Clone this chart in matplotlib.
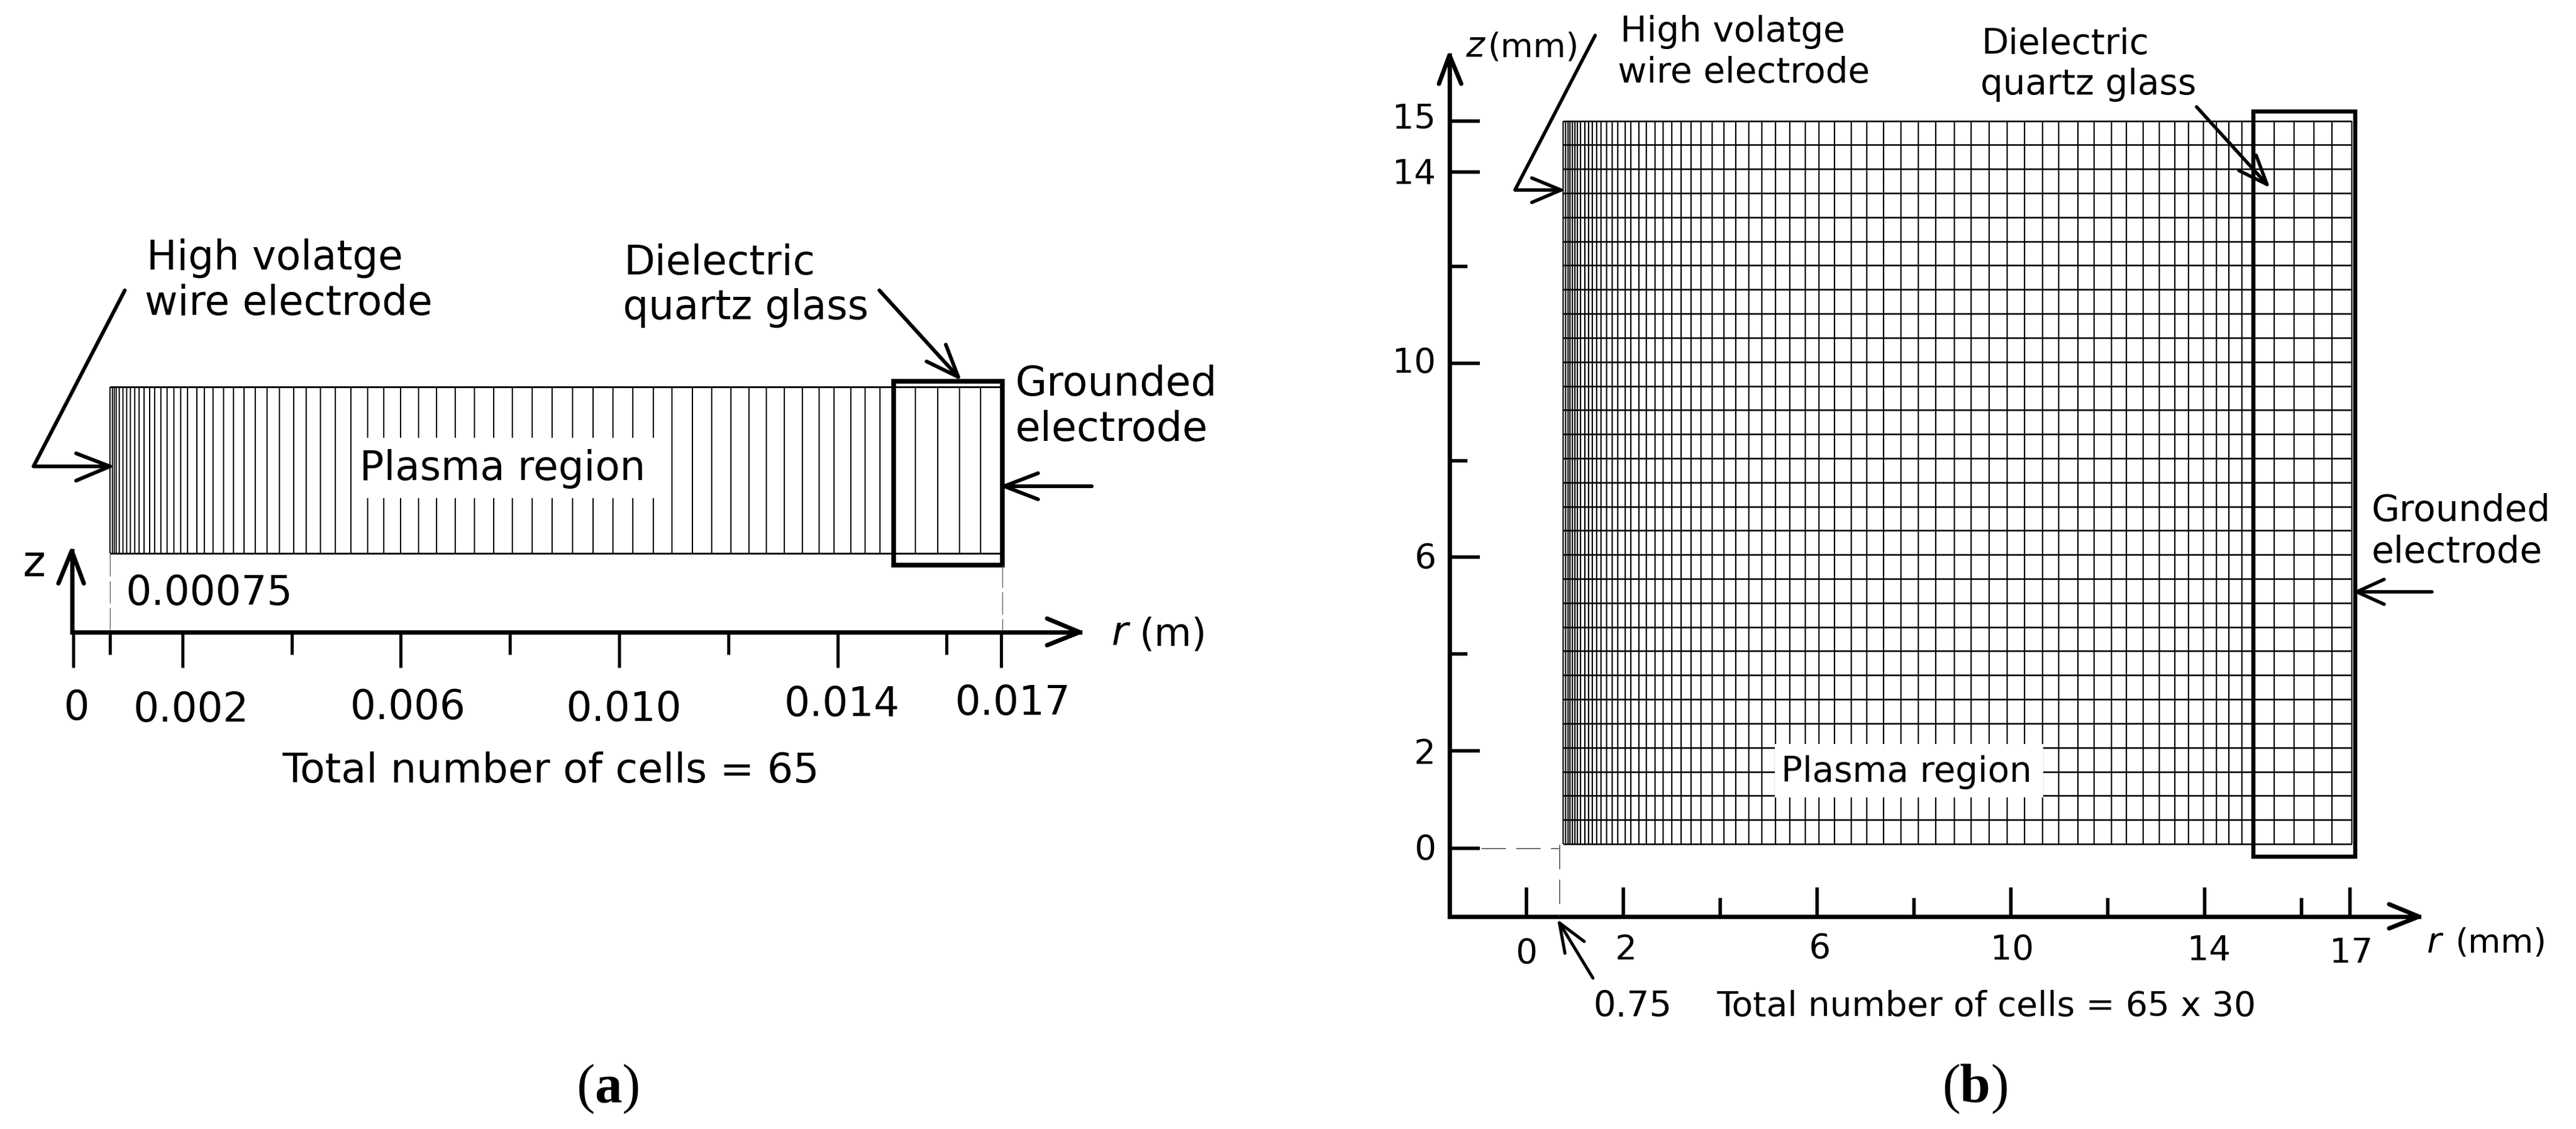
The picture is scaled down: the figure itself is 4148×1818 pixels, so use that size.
import matplotlib
matplotlib.use("Agg")
import matplotlib.pyplot as plt
from matplotlib.lines import Line2D
from matplotlib.patches import Rectangle
from matplotlib.transforms import Affine2D

# ---------- data ----------
# panel (a): radial cell faces (m)
r_faces_a = [0.000668, 0.000717, 0.000754, 0.000788, 0.000838, 0.000907, 0.000975, 0.001047,
             0.001123, 0.001206, 0.001297, 0.001396, 0.001490, 0.001608, 0.001721, 0.001843,
             0.001965, 0.002093, 0.002260, 0.002404, 0.002563, 0.002753, 0.002935, 0.003125,
             0.003337, 0.003549, 0.003777, 0.004035, 0.004270, 0.004528, 0.004804, 0.005085,
             0.005389, 0.005692, 0.005995, 0.006322, 0.006652, 0.007000, 0.007349, 0.007699,
             0.008047, 0.008404, 0.008775, 0.009150, 0.009522, 0.009886, 0.010245, 0.010622,
             0.010970, 0.011347, 0.011695, 0.012044, 0.012378, 0.012696, 0.013031, 0.013356,
             0.013663, 0.013936, 0.014249, 0.014505, 0.014778, 0.015029, 0.015432, 0.015832,
             0.016230, 0.016621, 0.016997]
z_faces_a = [0.0, 1.0]
r_major_a = [0.0, 0.002, 0.006, 0.010, 0.014, 0.017]
r_labels_a = ["0", "0.002", "0.006", "0.010", "0.014", "0.017"]
r_minor_a = [0.000668, 0.004, 0.008, 0.012, 0.016]

# panel (b): radial and axial cell faces (mm)
r_faces_b = [0.760, 0.808, 0.855, 0.901, 0.945, 1.000, 1.051, 1.115, 1.201, 1.278, 1.363, 1.453,
             1.542, 1.658, 1.769, 1.885, 2.035, 2.154, 2.324, 2.471, 2.654, 2.824, 2.996, 3.196,
             3.401, 3.606, 3.837, 4.073, 4.321, 4.586, 4.855, 5.141, 5.432, 5.753, 6.042, 6.363,
             6.705, 7.026, 7.376, 7.727, 8.094, 8.445, 8.829, 9.179, 9.547, 9.927, 10.282, 10.658,
             10.987, 11.385, 11.718, 12.071, 12.390, 12.736, 13.063, 13.381, 13.672, 13.970,
             14.247, 14.504, 14.768, 14.987, 15.441, 15.842, 16.251, 16.633, 17.035]
z_faces_b = [0.0, 0.5, 1.0, 1.5, 2.0, 2.5, 3.0, 3.5, 4.0, 4.5, 5.0, 5.5, 6.0, 6.5, 7.0, 7.5,
             8.0, 8.5, 9.0, 9.5, 10.0, 10.5, 11.0, 11.5, 12.0, 12.5, 13.0, 13.5, 14.0, 14.5, 15.0]
r_major_b = [0, 2, 6, 10, 14, 17]
r_labels_b = ["0", "2", "6", "10", "14", "17"]
r_minor_b = [4, 8, 12, 16]
z_major_b = [-0.09, 1.93, 5.95, 9.97, 13.94, 15.0]
z_labels_b = ["0", "2", "6", "10", "14", "15"]
z_minor_b = [3.94, 7.95, 11.98]

# ---------- page helpers ----------
W, H = 4148, 1818
DPI = 100
fig = plt.figure(figsize=(W / DPI, H / DPI), dpi=DPI, facecolor="white")
pxT = Affine2D().scale(1 / W, -1 / H).translate(0, 1) + fig.transFigure
plt.rcParams["font.family"] = ["DejaVu Sans"]


def pt(px):
    return px * 72 / DPI


def make_axes(x0, x1, y_top, y_bottom):
    ax = fig.add_axes([x0 / W, 1 - y_bottom / H, (x1 - x0) / W, (y_bottom - y_top) / H])
    ax.patch.set_visible(False)
    for s in ("top", "right"):
        ax.spines[s].set_visible(False)
    return ax


def stroke(xs, ys, lw=6, color="black", **kw):
    kw.setdefault("solid_capstyle", "round")
    kw.setdefault("solid_joinstyle", "round")
    fig.add_artist(Line2D(xs, ys, lw=pt(lw), color=color, transform=pxT, **kw))


def arrow_head(tip, b1, b2, lw=6):
    stroke([b1[0], tip[0], b2[0]], [b1[1], tip[1], b2[1]], lw=lw)


def label(x, y, s, size, **kw):
    fig.text(x, y, s, transform=pxT, fontsize=pt(size), va="baseline", ha=kw.pop("ha", "left"), **kw)


def box(x0, y0, x1, y1, lw=None, fc="none", ec="black"):
    fig.add_artist(Rectangle((x0, y0), x1 - x0, y1 - y0, transform=pxT, facecolor=fc,
                             edgecolor=ec, lw=pt(lw) if lw else 0))


def shift_labels(labels, offsets):
    for lab, (dx, dy) in zip(labels, offsets):
        lab.set_transform(lab.get_transform() + Affine2D().translate(dx, dy))


# ---------- panel (a) ----------
FA = 65
axa = make_axes(115.5, 1738.5, 600, 1018)
axa.set_xlim(-2.8e-5, 0.018436)
axa.set_ylim(-0.474, 1.086)
axa.vlines(r_faces_a, z_faces_a[0], z_faces_a[-1], color="black", lw=pt(2))
axa.hlines(z_faces_a, r_faces_a[0], r_faces_a[-1], color="black", lw=pt(2.8))
axa.spines["left"].set_bounds(-0.474, 0.015)
for s in ("left", "bottom"):
    axa.spines[s].set_linewidth(pt(7))
axa.set_yticks([])
axa.set_xticks(r_major_a, r_labels_a, fontsize=pt(FA))
axa.set_xticks(r_minor_a, minor=True)
axa.tick_params(axis="x", which="major", direction="out", length=pt(57), width=pt(5), pad=pt(33))
axa.tick_params(axis="x", which="minor", direction="out", length=pt(36), width=pt(5))
shift_labels(axa.get_xticklabels(),
             [(5, -1), (14, -4), (12, 0), (8, -3), (7, 5), (19, 7)])

box(567, 705, 1063, 802, fc="white")
label(579, 773, "Plasma region", FA)
label(236, 434, "High volatge", FA)
label(233, 507, "wire electrode", FA)
label(1005, 442, "Dielectric", FA)
label(1003, 514, "quartz glass", FA)
label(1634, 637, "Grounded", 66)
label(1634, 710, "electrode", 66)
label(203, 974, "0.00075", FA)
label(454, 1260, "Total number of cells = 65", 65.7)
label(37, 928, "z", 70)
label(1790, 1039, "r", FA, style="italic")
label(1835, 1039, "(m)", 62)

box(1439, 614, 1613.5, 909.5, lw=7.5)
stroke([201, 54, 177], [467.5, 751, 751])
arrow_head((177, 751), (122.5, 730), (122.5, 774))
stroke([1416, 1543], [467.5, 607])
arrow_head((1543, 607), (1492, 582), (1523, 555))
stroke([1617, 1758], [783, 783])
arrow_head((1617, 783), (1671.6, 762), (1671.6, 804))
arrow_head((1738.5, 1018), (1686, 996), (1686, 1039), lw=7)
arrow_head((115.5, 887), (94, 939.5), (135, 939.5), lw=7)
stroke([177, 177], [892, 1015], lw=1.2, color="#555555", linestyle=(0, (30, 6)))
stroke([1614, 1614], [910, 1015], lw=1.2, color="#555555", linestyle=(0, (30, 6)))

# ---------- panel (b) ----------
FB = 57
axb = make_axes(2334, 3895, 89, 1476)
axb.set_xlim(-1.590, 18.423)
axb.set_ylim(-1.507, 16.36)
axb.vlines(r_faces_b, z_faces_b[0], z_faces_b[-1], color="black", lw=pt(2.2))
axb.hlines(z_faces_b, r_faces_b[0], r_faces_b[-1], color="black", lw=pt(2.5))
for s in ("left", "bottom"):
    axb.spines[s].set_linewidth(pt(7))
axb.set_xticks(r_major_b, r_labels_b, fontsize=pt(55))
axb.set_xticks(r_minor_b, minor=True)
axb.set_yticks(z_major_b, z_labels_b, fontsize=pt(55))
axb.set_yticks(z_minor_b, minor=True)
axb.tick_params(axis="x", which="major", direction="in", length=pt(47), width=pt(5.5), pad=pt(27))
axb.tick_params(axis="x", which="minor", direction="in", length=pt(30), width=pt(5.5))
axb.tick_params(axis="y", which="major", direction="in", length=pt(49), width=pt(5.5), pad=pt(22))
axb.tick_params(axis="y", which="minor", direction="in", length=pt(29), width=pt(5.5))
shift_labels(axb.get_xticklabels(), [(0, -6), (4, 0), (4, 2), (2, 0), (7, -1), (2, -5)])
shift_labels(axb.get_yticklabels(), [(0, 3), (0, 0), (0, 3), (0, 6), (0, 2), (0, 9)])

box(2858, 1198, 3290, 1284, fc="white")
label(2868, 1259, "Plasma region", FB)
label(2609, 67, "High volatge", FB)
label(2605, 133, "wire electrode", FB)
label(3190, 87, "Dielectric", FB)
label(3189, 152, "quartz glass", FB)
label(3819, 839, "Grounded", 58.5)
label(3819, 906, "electrode", 58.5)
label(2565, 1637, "0.75", FB)
label(2764, 1636, "Total number of cells = 65 x 30", 55.5)
label(2360, 91, "z", FB, style="italic")
label(2395, 91, "(mm)", 54)
label(3908, 1533, "r", FB, style="italic")
label(3953, 1533, "(mm)", 54)

box(3627.6, 178.6, 3792, 1379, lw=6.5)
stroke([2568.6, 2439.5, 2513.5], [57, 306, 306], lw=5.5)
arrow_head((2513.5, 306), (2466.5, 286.6), (2466.5, 326), lw=5.5)
stroke([3537, 3650.5], [172, 297], lw=5.5)
arrow_head((3650.5, 297), (3605, 274.5), (3633, 250), lw=5.5)
stroke([3795, 3915.5], [953, 953], lw=5.5)
arrow_head((3795, 953), (3839, 933), (3839, 973), lw=5.5)
stroke([2511, 2565], [1486, 1575], lw=5)
arrow_head((2511, 1486), (2520, 1535), (2551, 1516), lw=5)
arrow_head((3895, 1476), (3847, 1456), (3847, 1495), lw=7)
arrow_head((2334, 89), (2317, 135), (2353, 135), lw=7)
stroke([2385, 2510], [1365.6, 1365.6], lw=1.4, color="#333333", linestyle=(0, (28, 12)))
stroke([2510.7, 2510.7], [1360, 1476], lw=1.4, color="#333333", linestyle=(0, (28, 12)))

# ---------- captions ----------
CAP = 88
for x, s, w in [(928, "(", "normal"), (957, "a", "bold"), (1001, ")", "normal"),
                (3127, "(", "normal"), (3156, "b", "bold"), (3205, ")", "normal")]:
    label(x, 1775, s, CAP, family="Liberation Serif", weight=w)

fig.savefig("out.png", dpi=DPI, facecolor="white")
